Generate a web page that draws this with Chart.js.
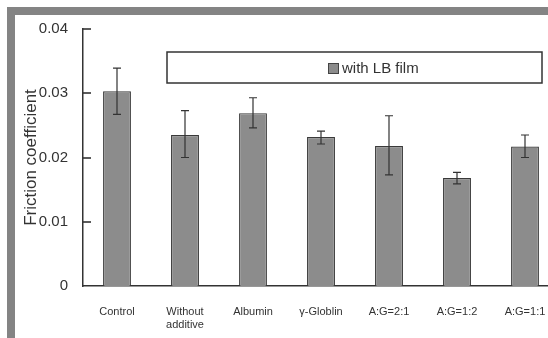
<!DOCTYPE html>
<html>
<head>
<meta charset="utf-8">
<script src="https://cdn.jsdelivr.net/npm/chart.js@4.4.1/dist/chart.umd.min.js"></script>
<style>
  html, body { margin: 0; padding: 0; background: #fff; overflow: hidden; }
  #wrap { position: relative; width: 548px; height: 338px; overflow: hidden; }
  #frame { position: absolute; left: 7px; top: 7px; right: 0; bottom: 0;
           border-top: 8px solid #848484; border-left: 8px solid #848484; pointer-events: none; }
  canvas { position: absolute; left: 0; top: 0; }
</style>
</head>
<body>
<div id="wrap">
  <canvas id="chartAtrito" width="559" height="338"></canvas>
  <div id="frame"></div>
</div>
<script>
Chart.defaults.font.family = '"Liberation Sans", Arial, sans-serif';
Chart.defaults.color = '#333';

// dados
const amostras = [
    'Control',
    ['Without', 'additive'],
    'Albumin',
    'γ-Globlin',
    'A:G=2:1',
    'A:G=1:2',
    'A:G=1:1',
];
const atrito = [0.0303, 0.0235, 0.0269, 0.0232, 0.0218, 0.0168, 0.0217];
const erroSup = [0.0339, 0.0273, 0.0293, 0.0241, 0.0265, 0.0177, 0.0235];
const erroInf = [0.0267, 0.0200, 0.0246, 0.0221, 0.0173, 0.0159, 0.0200];
const yTicks = [0, 0.01, 0.02, 0.03, 0.04];

// barras de erro
const barrasErro = {
    id: 'barrasErro',
    afterDatasetsDraw(chart) {
        const { ctx, scales: { y } } = chart;
        const meta = chart.getDatasetMeta(0);
        ctx.save();
        ctx.strokeStyle = '#333';
        ctx.lineWidth = 1.2;
        meta.data.forEach((bar, i) => {
            const yt = y.getPixelForValue(erroSup[i]);
            const yb = y.getPixelForValue(erroInf[i]);
            ctx.beginPath();
            ctx.moveTo(bar.x, yt); ctx.lineTo(bar.x, yb);
            ctx.moveTo(bar.x - 4, yt); ctx.lineTo(bar.x + 4, yt);
            ctx.moveTo(bar.x - 4, yb); ctx.lineTo(bar.x + 4, yb);
            ctx.stroke();
        });
        ctx.restore();
    }
};

// ticks para dentro + caixa da legenda
const ticksInternos = {
    id: 'ticksInternos',
    afterDraw(chart) {
        const { ctx, chartArea: { left, top }, scales: { y } } = chart;
        ctx.save();
        ctx.strokeStyle = '#333';
        ctx.lineWidth = 1.6;
        y.ticks.forEach(t => {
            if (t.value === 0) return;
            const py = Math.round(y.getPixelForValue(t.value));
            ctx.beginPath();
            ctx.moveTo(left, py); ctx.lineTo(left + 8, py);
            ctx.stroke();
        });

        // legenda
        const bx = left + 84, by = top + 23, bw = 375, bh = 31;
        ctx.lineWidth = 1.5;
        ctx.strokeStyle = '#333';
        ctx.fillStyle = '#fff';
        ctx.fillRect(bx, by, bw, bh);
        ctx.strokeRect(bx, by, bw, bh);
        const ds = chart.data.datasets[0];
        ctx.fillStyle = ds.backgroundColor;
        ctx.strokeStyle = '#444';
        ctx.lineWidth = 1;
        ctx.fillRect(bx + 161, by + 11, 10, 10);
        ctx.strokeRect(bx + 161.5, by + 11.5, 10, 10);
        ctx.fillStyle = '#333';
        ctx.font = '15px "Liberation Sans", Arial, sans-serif';
        ctx.textBaseline = 'middle';
        ctx.fillText(ds.label, bx + 175, by + bh / 2 + 1);
        ctx.restore();
    }
};

new Chart(document.getElementById('chartAtrito'), {
    type: 'bar',
    data: {
        labels: amostras,
        datasets: [
            {
                label: 'with LB film',
                data: atrito,
                backgroundColor: '#8c8c8c',
                borderColor: '#3a3a3a',
                borderWidth: 1.2,
                categoryPercentage: 1,
                barPercentage: 0.41,
            }
        ]
    },
    options: {
        responsive: false,
        animation: false,
        layout: { padding: { left: 15, top: 29, right: 0, bottom: 0 } },
        plugins: {
            legend: { display: false },
            tooltip: { enabled: false },
        },
        scales: {
            x: {
                grid: { display: false },
                border: { display: true, color: '#333', width: 1.5 },
                ticks: { font: { size: 11 }, padding: 11, maxRotation: 0, autoSkip: false },
                afterFit(scale) { scale.height = 52; },
            },
            y: {
                min: 0,
                max: 0.04,
                afterBuildTicks(scale) { scale.ticks = yTicks.map(v => ({ value: v })); },
                grid: { display: false },
                border: { display: true, color: '#333', width: 1.5 },
                ticks: {
                    font: { size: 15 },
                    padding: 7,
                    callback: v => v === 0 ? '0' : v.toFixed(2),
                },
                title: {
                    display: true,
                    text: 'Friction coefficient',
                    font: { size: 17 },
                    padding: { top: 6, bottom: 0 },
                },
                afterFit(scale) { scale.width = 68; },
            }
        }
    },
    plugins: [barrasErro, ticksInternos]
});
</script>
</body>
</html>
